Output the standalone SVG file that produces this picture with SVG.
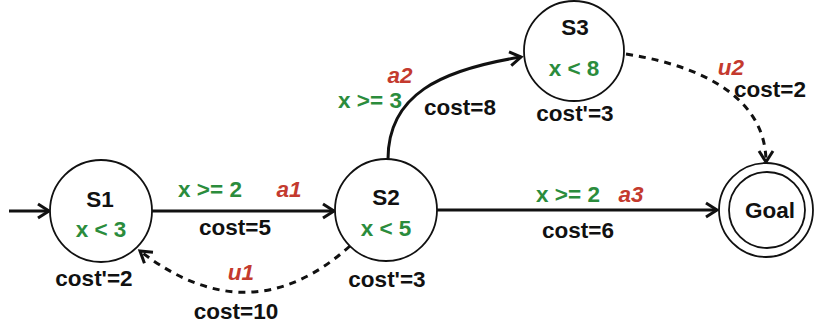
<svg xmlns="http://www.w3.org/2000/svg" width="815" height="327" viewBox="0 0 815 327">
<defs>
<style>
text{font-family:"Liberation Sans",Arial,Helvetica,sans-serif;font-weight:bold;font-size:22.5px;text-anchor:middle;fill:#111}
.g{fill:#2b8c3c}
.r{fill:#c43a2e;font-style:italic}
.node{fill:#fff;stroke:#111;stroke-width:1.8}
.e{fill:none;stroke:#111;stroke-width:3}
.d{stroke-dasharray:7 6}
</style>
<marker id="arr" markerUnits="userSpaceOnUse" markerWidth="16" markerHeight="18" refX="13" refY="9" orient="auto">
<path d="M2,2 L13,9 L2,16" fill="none" stroke="#111" stroke-width="3" stroke-linejoin="miter"/>
</marker>
</defs>
<rect width="815" height="327" fill="#fff"/>
<g id="connectors">
<path class="e" d="M9,211 L49,211" marker-end="url(#arr)"/>
<path class="e" d="M152,211 L334,211" marker-end="url(#arr)"/>
<path class="e d" d="M350,246 Q250,336 140,251" marker-end="url(#arr)"/>
<path class="e" d="M388,159 C388,95 440,70 521,57" marker-end="url(#arr)"/>
<path class="e" d="M437,210 L717,210" marker-end="url(#arr)"/>
<path class="e d" d="M626,54 C715,68 766,105 766,162" marker-end="url(#arr)"/>
</g>
<g id="S1">
<circle class="node" cx="101" cy="211" r="51"/>
<text x="100" y="207">S1</text>
<text class="g" x="101" y="237">x &lt; 3</text>
<text x="94" y="286">cost'=2</text>
</g>
<g id="S2">
<circle class="node" cx="386" cy="210" r="51"/>
<text x="386" y="205">S2</text>
<text class="g" x="386" y="236">x &lt; 5</text>
<text x="387" y="287">cost'=3</text>
</g>
<g id="S3">
<circle class="node" cx="574" cy="51" r="50"/>
<text x="575" y="35">S3</text>
<text class="g" x="574" y="76">x &lt; 8</text>
<text x="575" y="121">cost'=3</text>
</g>
<g id="Goal">
<circle class="node" cx="766" cy="210" r="47"/>
<circle class="node" cx="767" cy="210" r="38"/>
<text x="770" y="218">Goal</text>
</g>
<g id="labels">
<text class="g" x="210" y="197">x &gt;= 2</text>
<text class="r" x="289" y="197">a1</text>
<text x="235" y="235">cost=5</text>
<text class="r" x="241" y="280">u1</text>
<text x="236" y="319">cost=10</text>
<text class="r" x="400" y="83">a2</text>
<text class="g" x="370" y="108">x &gt;= 3</text>
<text x="460" y="115">cost=8</text>
<text class="g" x="568" y="202">x &gt;= 2</text>
<text class="r" x="631" y="202">a3</text>
<text x="578" y="238">cost=6</text>
<text class="r" x="731" y="75">u2</text>
<text x="770" y="97">cost=2</text>
</g>
</svg>
